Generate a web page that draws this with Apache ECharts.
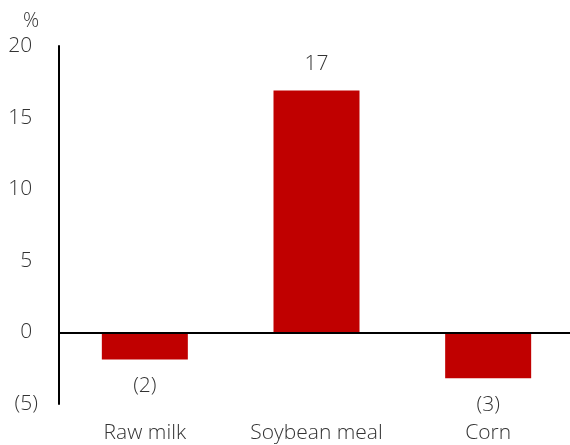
<!DOCTYPE html>
<html>
<head>
<meta charset="utf-8">
<script src="https://cdn.jsdelivr.net/npm/echarts@6/dist/echarts.min.js"></script>
<style>
  html, body { margin: 0; padding: 0; background: #fff; }
  #chart { width: 570px; height: 445px; }
</style>
</head>
<body>
<div id="chart"></div>
<script>
// Year-on-year price change by commodity, %
const categories = ['Raw milk', 'Soybean meal', 'Corn'];
const changes = [-1.9, 16.9, -3.2];
const yTicks = { min: -5, max: 20, interval: 5 };

const FONT = '"Open Sans", "Noto Sans", sans-serif';
const TEXT = '#333333';
const BAR = '#c00000';
const SIZE = 21;

// Accounting style: negatives in parentheses, positives padded by an invisible ")"
const fmtTick = v => (v < 0 ? '(' + Math.abs(Math.round(v)) + ')' : Math.round(v) + '{pad|)}');
const fmtValue = v => (v < 0 ? '(' + Math.abs(Math.round(v)) + ')' : String(Math.round(v)));

const chart = echarts.init(document.getElementById('chart'), null, { renderer: 'canvas' });

chart.setOption({
  animation: false,
  backgroundColor: '#fff',
  grid: {
    left: 59, width: 515, top: 46, bottom: 41,
    containLabel: false, outerBoundsMode: 'none'
  },
  graphic: [{
    type: 'text', left: 23, top: 11,
    style: { text: '%', font: '300 ' + (SIZE - 1) + 'px ' + FONT, fill: TEXT }
  }],
  xAxis: {
    type: 'category',
    data: categories,
    axisLine: { show: false, onZero: false },
    axisTick: { show: false },
    axisLabel: {
      interval: 0, hideOverlap: false,
      margin: 19, fontSize: SIZE, fontWeight: 300, fontFamily: FONT, color: TEXT
    }
  },
  yAxis: {
    type: 'value',
    min: yTicks.min, max: yTicks.max, interval: yTicks.interval,
    axisLine: { show: true, lineStyle: { color: '#000', width: 2 } },
    axisTick: { show: false },
    splitLine: { show: false },
    axisLabel: {
      margin: 21, fontSize: SIZE, fontWeight: 300, fontFamily: FONT, color: TEXT,
      formatter: fmtTick,
      rich: { pad: { fontSize: SIZE, fontWeight: 300, fontFamily: FONT, color: 'rgba(0,0,0,0)' } }
    }
  },
  series: [{
    type: 'bar',
    barWidth: 86,
    itemStyle: { color: BAR },
    data: changes.map(v => ({
      value: v,
      label: { position: v < 0 ? 'bottom' : 'top' }
    })),
    label: {
      show: true, distance: 16,
      fontSize: SIZE, fontWeight: 300, fontFamily: FONT, color: TEXT,
      formatter: p => fmtValue(p.value)
    },
    markLine: {
      silent: true, symbol: 'none',
      label: { show: false },
      lineStyle: { color: '#000', width: 2, type: 'solid' },
      data: [{ yAxis: 0 }]
    }
  }]
});
</script>
</body>
</html>
